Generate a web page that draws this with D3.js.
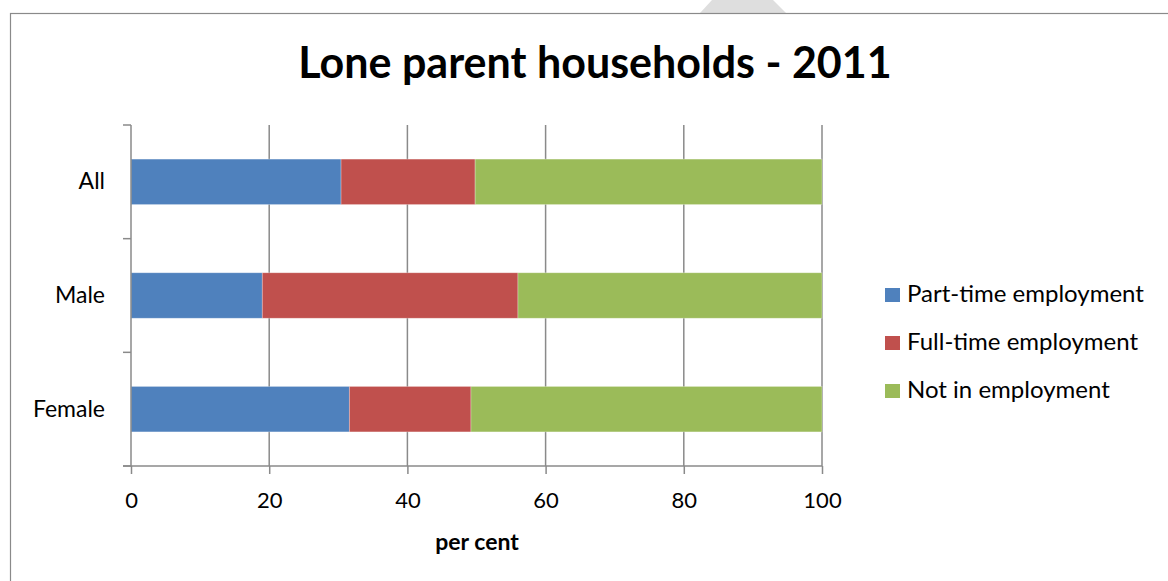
<!DOCTYPE html>
<html>
<head>
<meta charset="utf-8">
<script src="https://cdn.jsdelivr.net/npm/d3@7"></script>
<style>
  html, body { margin: 0; padding: 0; background: #fff; }
  svg { display: block; }
  text { font-family: Lato, "Open Sans", sans-serif; fill: #000; }
</style>
</head>
<body>
<svg id="chart" width="1168" height="581"></svg>
<script>
// Lone parent households by sex of parent, employment status (per cent)
const categories = ["All", "Male", "Female"];
const seriesNames = ["Part-time employment", "Full-time employment", "Not in employment"];
const partTime = [30.4, 19.0, 31.6];
const fullTime = [19.4, 37.0, 17.6];
const notEmployed = [50.2, 44.0, 50.8];
const xTicks = [0, 20, 40, 60, 80, 100];
const colors = ["#4F81BD", "#C0504D", "#9BBB59"];

const svg = d3.select("#chart");

// chart frame
svg.append("path")
  .attr("d", "M712,0 L773,0 L786,13 L700,13 Z")
  .attr("fill", "#dedede");
svg.append("rect")
  .attr("x", 10.5).attr("y", 13.5)
  .attr("width", 1170).attr("height", 580)
  .attr("fill", "none").attr("stroke", "#8a8a8a").attr("stroke-width", 1.2);

// title
svg.append("text")
  .attr("x", 595).attr("y", 78)
  .attr("text-anchor", "middle")
  .style("font-size", "43px").style("font-weight", "bold")
  .text("Lone parent households - 2011");

const plotLeft = 131, plotRight = 822, plotTop = 125, plotBottom = 466;

const x = d3.scaleLinear().domain([0, 100]).range([plotLeft, plotRight]);
const y = d3.scaleBand().domain(categories).range([plotTop, plotBottom]).paddingInner(0.6).paddingOuter(0.3);

// stack the three series per category
const rows = categories.map((c, i) => ({
  category: c,
  [seriesNames[0]]: partTime[i],
  [seriesNames[1]]: fullTime[i],
  [seriesNames[2]]: notEmployed[i]
}));
const stacked = d3.stack().keys(seriesNames)(rows);

// vertical gridlines
svg.append("g")
  .selectAll("line")
  .data(xTicks.slice(1))
  .join("line")
  .attr("x1", d => x(d)).attr("x2", d => x(d))
  .attr("y1", plotTop).attr("y2", plotBottom)
  .attr("stroke", "#8a8a8a").attr("stroke-width", 1.5);

// bars
svg.append("g")
  .selectAll("g")
  .data(stacked)
  .join("g")
  .attr("fill", (d, i) => colors[i])
  .selectAll("rect")
  .data(d => d)
  .join("rect")
  .attr("x", d => x(d[0]))
  .attr("y", d => y(d.data.category))
  .attr("width", d => x(d[1]) - x(d[0]))
  .attr("height", y.bandwidth())
  .attr("stroke", "rgba(255,255,255,0.35)")
  .attr("stroke-width", 0.8);

// category axis (ticks between categories)
const yAxisG = svg.append("g");
yAxisG.append("line")
  .attr("x1", plotLeft).attr("x2", plotLeft).attr("y1", plotTop).attr("y2", plotBottom)
  .attr("stroke", "#8a8a8a").attr("stroke-width", 1.5);
const step = (plotBottom - plotTop) / categories.length;
yAxisG.selectAll("line.tick")
  .data(d3.range(categories.length + 1))
  .join("line").attr("class", "tick")
  .attr("x1", plotLeft - 8).attr("x2", plotLeft)
  .attr("y1", d => plotTop + d * step).attr("y2", d => plotTop + d * step)
  .attr("stroke", "#8a8a8a").attr("stroke-width", 1.5);
yAxisG.selectAll("text")
  .data(categories)
  .join("text")
  .attr("x", 105)
  .attr("y", d => y(d) + y.bandwidth() / 2)
  .attr("dy", "0.33em")
  .attr("text-anchor", "end")
  .style("font-size", "23px")
  .text(d => d);

// value axis
const xAxis = d3.axisBottom(x).tickValues(xTicks).tickSize(8).tickPadding(18);
const xAxisG = svg.append("g")
  .attr("transform", `translate(0,${plotBottom})`)
  .call(xAxis);
xAxisG.select(".domain").attr("stroke", "#8a8a8a").attr("stroke-width", 1.5)
  .attr("d", `M${plotLeft - 8},0H${plotRight}`);
xAxisG.selectAll(".tick line").attr("stroke", "#8a8a8a").attr("stroke-width", 1.5);
xAxisG.selectAll(".tick text")
  .style("font-family", "Lato, 'Open Sans', sans-serif")
  .style("font-size", "22px").attr("fill", "#000");

svg.append("text")
  .attr("x", 477).attr("y", 550)
  .attr("text-anchor", "middle")
  .style("font-size", "23px").style("font-weight", "bold")
  .text("per cent");

// legend
const legend = svg.append("g");
const legendRows = legend.selectAll("g")
  .data(seriesNames)
  .join("g")
  .attr("transform", (d, i) => `translate(885,${302 + i * 48})`);
legendRows.append("rect")
  .attr("x", 0).attr("y", -14).attr("width", 15).attr("height", 14)
  .attr("fill", (d, i) => colors[i]);
legendRows.append("text")
  .attr("x", 22).attr("y", 0)
  .style("font-size", "24px")
  .text(d => d);
</script>
</body>
</html>
